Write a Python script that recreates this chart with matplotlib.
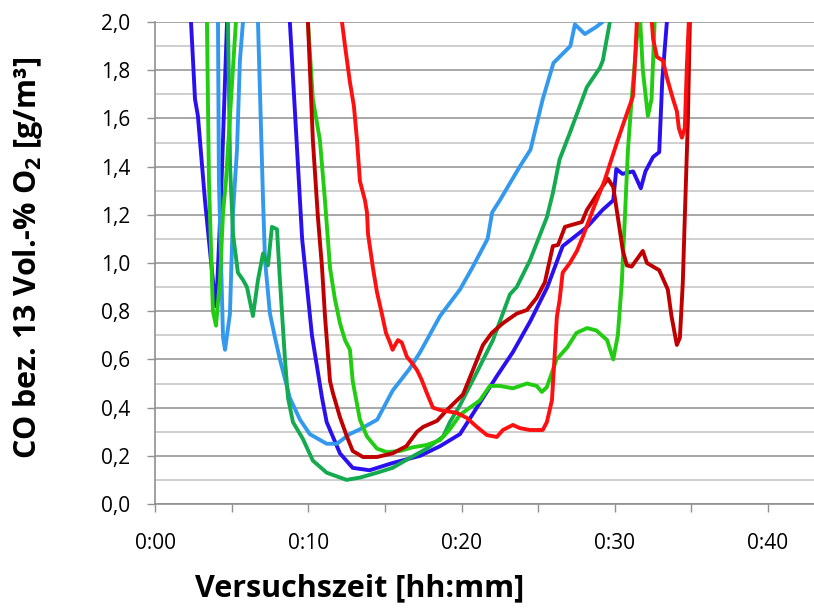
import numpy as np
import matplotlib
matplotlib.use("Agg")
import matplotlib.pyplot as plt
from matplotlib.ticker import MultipleLocator, FuncFormatter

plt.rcParams['font.family'] = ['Open Sans', 'DejaVu Sans']
plt.rcParams['mathtext.fontset'] = 'custom'
plt.rcParams['mathtext.rm'] = 'Open Sans:bold'
plt.rcParams['mathtext.default'] = 'rm'

# time in minutes, CO in g/m3 (values above 2.0 are cut off by the axis)
t_blue = [2.1, 2.35, 2.61, 2.8, 3.26, 3.9, 4.0, 4.3, 4.7, 6.5, 8.8, 9.6, 10.24, 10.9, 11.2,
          12.07, 12.9, 14.0, 15.5, 17.3, 18.6, 19.9, 22.3, 23.35, 24.5, 25.6, 26.6, 28.2,
          29.2, 29.9, 30.1, 30.5, 31.2, 31.7, 32.0, 32.5, 32.9, 33.1, 33.4, 33.8]
v_blue = [3.0, 2.0, 1.68, 1.61, 1.26, 0.85, 0.82, 1.26, 2.0, 3.0, 2.0, 1.10, 0.70, 0.44, 0.34,
          0.21, 0.15, 0.14, 0.17, 0.20, 0.24, 0.29, 0.53, 0.63, 0.76, 0.90, 1.07, 1.15,
          1.22, 1.26, 1.39, 1.37, 1.38, 1.31, 1.38, 1.44, 1.46, 1.76, 2.0, 3.0]

t_lblue = [3.9, 4.11, 4.17, 4.44, 4.57, 4.89, 5.09, 5.35, 5.54, 5.74, 6.2, 6.72, 7.05, 7.18,
           7.5, 7.83, 8.15, 8.8, 9.46, 10.1, 11.2, 11.87, 12.7, 13.37, 14.5, 15.5, 16.6,
           17.3, 18.6, 19.9, 20.7, 21.7, 22.0, 22.5, 23.8, 24.5, 25.3, 26.0, 27.1, 27.4,
           28.05, 28.8, 29.2, 29.6]
v_lblue = [3.0, 2.0, 1.34, 0.69, 0.64, 0.79, 1.21, 1.47, 1.84, 2.0, 3.0, 2.0, 1.26, 1.01,
           0.79, 0.69, 0.60, 0.44, 0.35, 0.29, 0.25, 0.25, 0.29, 0.31, 0.35, 0.47, 0.56,
           0.63, 0.78, 0.89, 0.98, 1.10, 1.21, 1.26, 1.40, 1.47, 1.68, 1.83, 1.90, 1.99,
           1.95, 1.98, 2.0, 3.0]

t_dgreen = [4.5, 4.76, 4.9, 5.09, 5.41, 5.74, 6.0, 6.39, 6.72, 7.05, 7.37, 7.63, 7.96, 8.15,
            8.48, 8.68, 9.0, 9.65, 10.3, 11.2, 12.5, 13.4, 14.5, 15.5, 16.6, 17.74, 18.8,
            19.24, 19.9, 20.87, 22.05, 23.16, 23.6, 24.46, 25.57, 25.96, 26.4, 27.07, 28.18,
            29.03, 29.22, 29.68, 30.0]
v_dgreen = [3.0, 2.0, 1.40, 1.12, 0.96, 0.93, 0.90, 0.78, 0.93, 1.04, 0.99, 1.15, 1.14, 0.93,
            0.60, 0.44, 0.34, 0.27, 0.18, 0.13, 0.10, 0.11, 0.13, 0.15, 0.19, 0.23, 0.28,
            0.34, 0.41, 0.53, 0.68, 0.87, 0.90, 1.01, 1.19, 1.29, 1.43, 1.54, 1.73,
            1.81, 1.84, 2.0, 3.0]

t_green = [3.2, 3.39, 3.52, 3.78, 3.98, 4.24, 4.44, 4.63, 4.96, 5.28, 7.5, 9.98, 10.3, 10.76,
           11.09, 11.42, 11.74, 12.07, 12.4, 12.72, 12.9, 13.37, 13.83, 14.48, 15.13, 15.98,
           16.8, 17.74, 18.6, 19.24, 19.9, 21.2, 21.85, 22.5, 23.35, 24.27, 24.9, 25.24,
           25.57, 26.2, 26.9, 27.5, 28.2, 28.8, 29.5, 29.9, 30.2, 30.46, 30.66, 30.86, 31.1,
           31.44, 31.64, 31.83, 32.16, 32.4, 32.6, 32.9]
v_green = [3.0, 2.0, 1.34, 0.80, 0.74, 0.93, 1.21, 1.34, 1.68, 2.0, 3.0, 2.0, 1.68, 1.51,
           1.26, 0.98, 0.85, 0.75, 0.68, 0.64, 0.51, 0.35, 0.28, 0.23, 0.215, 0.22,
           0.235, 0.245, 0.265, 0.31, 0.37, 0.43, 0.49, 0.49, 0.48, 0.50, 0.49, 0.465,
           0.485, 0.60, 0.65, 0.71, 0.73, 0.72, 0.68, 0.60, 0.70, 0.92, 1.19, 1.47, 1.68,
           1.93, 2.03, 1.80, 1.61, 1.68, 2.0, 3.0]

t_dred = [9.7, 9.98, 10.3, 10.63, 10.9, 11.09, 11.42, 11.61, 12.07, 12.52, 12.9, 13.57, 14.48,
          15.5, 16.4, 17.1, 17.5, 18.4, 19.05, 19.7, 20.1, 20.74, 21.4, 21.98, 22.7, 23.6,
          24.27, 24.9, 25.44, 25.96, 26.3, 26.75, 27.85, 28.18, 28.9, 29.55, 29.9, 30.2,
          30.53, 30.79, 31.1, 31.83, 32.1, 32.9, 33.46, 33.7, 34.05, 34.25, 34.44, 34.57,
          34.77, 34.9, 35.1]
v_dred = [3.0, 2.0, 1.51, 1.19, 0.98, 0.78, 0.51, 0.46, 0.36, 0.28, 0.22, 0.195, 0.195,
          0.21, 0.24, 0.30, 0.32, 0.345, 0.39, 0.43, 0.455, 0.555, 0.66, 0.71, 0.75, 0.79,
          0.805, 0.855, 0.92, 1.07, 1.075, 1.15, 1.17, 1.22, 1.29, 1.35, 1.315, 1.19,
          1.05, 0.99, 0.985, 1.05, 1.0, 0.97, 0.89, 0.78, 0.66, 0.69, 0.92, 1.19,
          1.59, 2.0, 3.0]

t_red = [12.0, 12.2, 12.4, 12.72, 12.98, 13.18, 13.37, 13.7, 13.83, 13.9, 14.22, 14.48, 14.8,
         15.07, 15.33, 15.5, 15.85, 16.1, 16.44, 16.77, 17.1, 17.4, 17.74, 18.13, 18.6, 19.7,
         20.35, 21.0, 21.66, 22.3, 22.7, 23.35, 23.8, 24.46, 25.3, 25.57, 25.9, 26.1, 26.22,
         26.4, 26.6, 27.07, 27.53, 27.92, 28.57, 29.35, 30.14, 30.79, 31.18, 31.3, 31.44,
         31.9, 32.42, 32.5, 32.75, 33.14, 33.4, 33.8, 34.05, 34.18, 34.38, 34.57, 34.7,
         34.83, 35.0]
v_red = [3.0, 2.0, 1.90, 1.75, 1.65, 1.51, 1.34, 1.26, 1.21, 1.12, 0.98, 0.88, 0.79,
         0.71, 0.67, 0.64, 0.68, 0.67, 0.61, 0.585, 0.555, 0.515, 0.46, 0.40, 0.39, 0.378,
         0.357, 0.32, 0.286, 0.278, 0.307, 0.328, 0.315, 0.307, 0.307, 0.34, 0.43, 0.64,
         0.776, 0.846, 0.96, 1.0, 1.05, 1.11, 1.22, 1.345, 1.50, 1.62, 1.69, 1.81, 2.0,
         2.4, 2.0, 1.93, 1.855, 1.84, 1.77, 1.68, 1.63, 1.56, 1.52, 1.56, 1.81,
         2.0, 3.0]

fig = plt.figure(figsize=(8.14, 6.08), dpi=100)
ax = fig.add_axes([155/814, 1 - 504/608, 1 - 155/814, (504 - 22)/608])

lw = 2.8
kw = dict(lw=lw, solid_joinstyle='round', solid_capstyle='round')
ax.plot(t_blue, v_blue, color='#2a10f0', **kw)
ax.plot(t_lblue, v_lblue, color='#3399ee', **kw)
ax.plot(t_dgreen, v_dgreen, color='#14aa50', **kw)
ax.plot(t_green, v_green, color='#22cc11', **kw)
ax.plot(t_dred, v_dred, color='#c00000', **kw)
ax.plot(t_red, v_red, color='#ff1010', **kw)

ax.set_xlim(0, 43)
ax.set_ylim(0, 2.0)

ax.xaxis.set_major_locator(MultipleLocator(5))
ax.xaxis.set_major_formatter(FuncFormatter(
    lambda x, p: '%d:%02d' % (int(round(x)) // 60, int(round(x)) % 60) if round(x) % 10 == 0 else ''))
ax.yaxis.set_major_locator(MultipleLocator(0.2))
ax.yaxis.set_minor_locator(MultipleLocator(0.1))
ax.yaxis.set_major_formatter(FuncFormatter(lambda y, p: ('%.1f' % y).replace('.', ',')))

ax.grid(which='major', axis='y', color='#a0a0a0', lw=1.3)
ax.grid(which='minor', axis='y', color='#cccccc', lw=1.3)
ax.set_axisbelow(True)

ax.tick_params(axis='x', direction='out', length=6, width=1, color='#909090', pad=15, labelsize=15)
ax.tick_params(axis='y', which='major', direction='out', length=6, width=1, color='#909090', pad=12, labelsize=15)
ax.tick_params(axis='y', which='minor', length=0)

for s in ['top', 'right']:
    ax.spines[s].set_visible(False)
for s in ['left', 'bottom']:
    ax.spines[s].set_color('#909090')
    ax.spines[s].set_linewidth(1.2)

fig.text(28/814, 1 - 258/608, 'CO bez. 13 Vol.-% O$_2$ [g/m³]', rotation=90,
         ha='center', va='center', fontsize=22, fontweight='bold')
fig.text(360/814, 1 - 588/608, 'Versuchszeit [hh:mm]', ha='center', va='center',
         fontsize=22, fontweight='bold')

fig.savefig('out.png', dpi=100)
